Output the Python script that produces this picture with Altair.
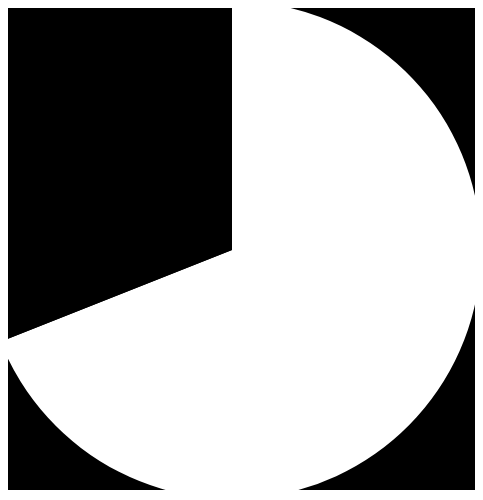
import altair as alt
import pandas as pd

categories = ["A", "B"]
values = [69, 31]
colors = ["#ffffff", "#000000"]

df = pd.DataFrame({"category": categories, "value": values, "order": [0, 1]})

chart = alt.Chart(df).mark_arc(radius=249, stroke=None).encode(
    theta=alt.Theta("value:Q", stack=True),
    order=alt.Order("order:Q"),
    color=alt.Color("category:N", scale=alt.Scale(domain=categories, range=colors), legend=None),
).properties(
    width=498, height=498, background="#000000",
    padding={"left": -25, "top": -7, "right": -6, "bottom": -9},
).configure_view(strokeWidth=0)

chart.save("out.html", embed_options={"renderer": "svg", "actions": False})
